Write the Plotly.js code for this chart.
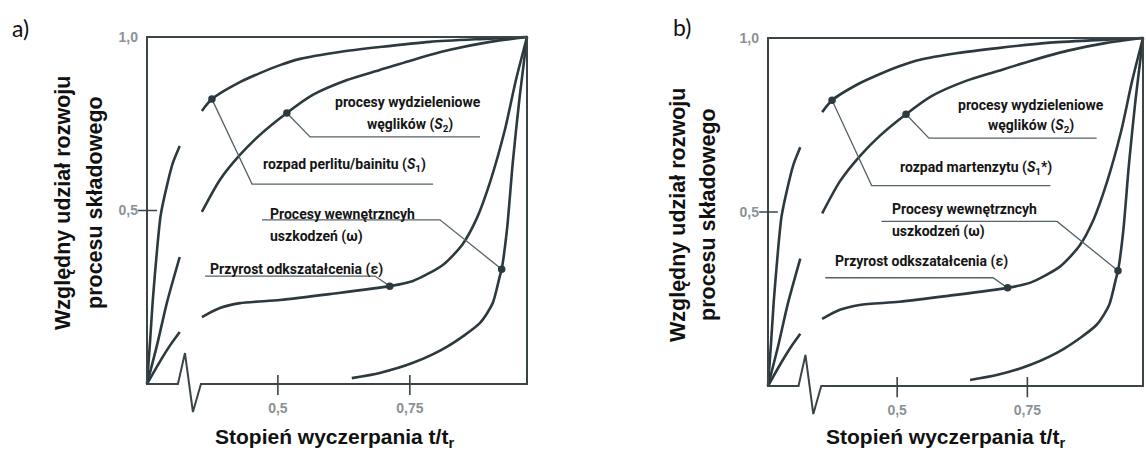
<!DOCTYPE html>
<html><head><meta charset="utf-8">
<script src="https://cdn.plot.ly/plotly-3.0.1.min.js"></script>
<style>html,body{margin:0;padding:0;background:#fff;} #chart{width:1146px;height:451px;}</style>
</head><body><div id="chart"></div>
<script>
// ---- data (relative time t/tr, relative share) ----
const s1EarlyX = [0.252,0.258,0.263,0.271,0.278,0.290,0.301,0.314];
const s1EarlyY = [0,0.127,0.242,0.386,0.487,0.573,0.637,0.686];
const s1X = [0.356,0.375,0.428,0.466,0.504,0.542,0.617,0.693,0.788,0.883,0.972];
const s1Y = [0.787,0.821,0.870,0.896,0.919,0.937,0.957,0.971,0.986,0.994,1.0];

const s2EarlyX = [0.252,0.271,0.290,0.314];
const s2EarlyY = [0,0.112,0.236,0.366];
const s2X = [0.356,0.390,0.428,0.466,0.517,0.566,0.631,0.693,0.756,0.826,0.902,0.972];
const s2Y = [0.496,0.588,0.660,0.718,0.781,0.833,0.876,0.905,0.934,0.963,0.986,1.0];

const epsEarlyX = [0.252,0.277,0.296,0.314];
const epsEarlyY = [0,0.066,0.112,0.150];
const epsX = [0.356,0.390,0.428,0.504,0.598,0.712,0.756,0.8125,0.850,0.877,0.902,0.930,0.951,0.972];
const epsY = [0.193,0.219,0.233,0.242,0.259,0.282,0.297,0.343,0.403,0.478,0.582,0.732,0.876,1.0];

const omegaX = [0.640,0.693,0.756,0.820,0.883,0.907,0.920,0.924,0.934,0.945,0.958,0.972];
const omegaY = [0.017,0.032,0.061,0.107,0.176,0.233,0.308,0.331,0.444,0.637,0.827,1.0];

const dotX = [0.375,0.517,0.712,0.924];
const dotY = [0.821,0.781,0.282,0.331];

const leadS1X = [0.375,0.451,0.794],  leadS1Y = [0.821,0.576,0.576];
const leadS2X = [0.517,0.561,0.883],  leadS2Y = [0.781,0.712,0.712];
const leadOmX = [0.470,0.807,0.924],  leadOmY = [0.473,0.473,0.331];
const leadEpX = [0.362,0.684,0.712],  leadEpY = [0.311,0.311,0.282];

const xTickVals = [0.5,0.75], xTickText = ['0,5','0,75'];
const yTickVals = [0.5,1.0],  yTickText = ['0,5','1,0'];
const frameX = [0.252,0.972];           // frame extent in t/tr
const breakX = [0.3106,0.3239,0.3390,0.3542];
const breakY = [0,0.0893,-0.0807,0];

const labelsA = {s2a:'procesy wydzieleniowe', s2b:'węglików (<i>S</i><sub>2</sub>)',
  s1:'rozpad perlitu/bainitu (<i>S</i><sub>1</sub>)', om1:'Procesy wewnętrzncyh', om2:'uszkodzeń (ω)',
  eps:'Przyrost odkszatałcenia (ε)'};
const labelsB = Object.assign({}, labelsA, {s1:'rozpad martenzytu (<i>S</i><sub>1</sub>*)'});

// ---- layout helpers ----
const W = 1146, H = 451;
const XR = [0.225, 0.977], YR = [-0.1, 1.025];
function dom(L,R,T,B){
  const sx = (R-L)/(frameX[1]-frameX[0]);
  const sy = (B-T);
  const pL = L-(frameX[0]-XR[0])*sx, pR = R+(XR[1]-frameX[1])*sx;
  const pT = T-(YR[1]-1)*sy, pB = B+(0-YR[0])*sy;
  return {x:[pL/W,pR/W], y:[1-pB/H,1-pT/H], xpos:1-B/H, ypos:L/W};
}
const dA = dom(147,527,37,384), dB = dom(768,1143,38,386);

const CURVE = '#2c393e', FRAME = '#3b4447', LEAD = '#55626a';
function traces(xa, ya){
  const t = [];
  const cur = (x,y)=>t.push({x,y,xaxis:xa,yaxis:ya,type:'scatter',mode:'lines',
     line:{color:CURVE,width:2.6,shape:'spline',smoothing:0.7},hoverinfo:'skip'});
  cur(s1EarlyX,s1EarlyY); cur(s1X,s1Y); cur(s2EarlyX,s2EarlyY); cur(s2X,s2Y);
  cur(epsEarlyX,epsEarlyY); cur(epsX,epsY); cur(omegaX,omegaY);
  const ld = (x,y)=>t.push({x,y,xaxis:xa,yaxis:ya,type:'scatter',mode:'lines',
     line:{color:LEAD,width:1.3},hoverinfo:'skip'});
  ld(leadS1X,leadS1Y); ld(leadS2X,leadS2Y); ld(leadOmX,leadOmY); ld(leadEpX,leadEpY);
  t.push({x:dotX,y:dotY,xaxis:xa,yaxis:ya,type:'scatter',mode:'markers',
     marker:{color:CURVE,size:7.5},hoverinfo:'skip'});
  return t;
}
function frameShapes(xr, yr){
  let p = `M ${frameX[0]},1 L ${frameX[0]},0`;
  for(let i=0;i<breakX.length;i++) p += ` L ${breakX[i]},${breakY[i]}`;
  p += ` L ${frameX[1]},0 L ${frameX[1]},1 Z`;
  const s = [{type:'path',path:p,xref:xr,yref:yr,line:{color:FRAME,width:2}}];
  xTickVals.forEach(v=>s.push({type:'line',xref:xr,yref:yr,x0:v,x1:v,y0:-0.032,y1:0.026,line:{color:FRAME,width:1.6}}));
  s.push({type:'line',xref:xr,yref:yr,x0:0.235,x1:0.271,y0:0.5,y1:0.5,line:{color:FRAME,width:1.6}});
  return s;
}
const ANN = {family:'Roboto, sans-serif', size:14, color:'#151515', weight:700};
function labels(xr, yr, L, pos){
  const a = (text,x,y,xanchor)=>({text,x,y,xref:xr,yref:yr,showarrow:false,xanchor:xanchor||'center',yanchor:'middle',font:ANN});
  return [a(L.s2a,pos.s2a[0],pos.s2a[1]), a(L.s2b,pos.s2b[0],pos.s2b[1]), a(L.s1,pos.s1[0],pos.s1[1]),
          a(L.om1,pos.om1[0],pos.om1[1],'left'), a(L.om2,pos.om2[0],pos.om2[1],'left'), a(L.eps,pos.eps[0],pos.eps[1],'left')];
}
const posA = {s2a:[0.746,0.813], s2b:[0.750,0.746], s1:[0.627,0.631], om1:[0.481,0.490], om2:[0.481,0.424], eps:[0.367,0.329]};
const posB = {s2a:[0.757,0.807], s2b:[0.757,0.747], s1:[0.651,0.626], om1:[0.486,0.509], om2:[0.486,0.443], eps:[0.377,0.359]};

const XTITLE = {family:'Liberation Sans, Arial, sans-serif', size:21, color:'#111', weight:700};
const YTITLE = {family:'Liberation Sans, Arial, sans-serif', size:21.5, color:'#111', weight:700};
const pa = (text,px,py,angle,font,xanchor)=>({text,x:px/W,y:1-py/H,xref:'paper',yref:'paper',showarrow:false,
   textangle:angle||0,xanchor:xanchor||'center',yanchor:'middle',font});
const titleAnn = [
  pa('Stopień wyczerpania t/t<sub>r</sub>',334,438,0,XTITLE),
  pa('Stopień wyczerpania t/t<sub>r</sub>',945,438,0,XTITLE),
  pa('Względny udział rozwoju',63,203,-90,YTITLE),
  pa('procesu składowego',95,203,-90,YTITLE),
  pa('Względny udział rozwoju',678,215,-90,YTITLE),
  pa('procesu składowego',708,215,-90,YTITLE),
  pa('a)',20,28,0,{family:'Lato, sans-serif',size:23,color:'#111'}),
  pa('b)',682,27,0,{family:'Lato, sans-serif',size:23,color:'#111'})
];

const TICKF = {family:'Liberation Sans, Arial, sans-serif', size:14, color:'#8a9296', weight:700};
function xax(d){ return {domain:d.x, range:XR, anchor:'free', position:d.xpos, showline:false, zeroline:false, showgrid:false,
  ticks:'', tickmode:'array', tickvals:xTickVals, ticktext:xTickText, tickfont:TICKF, ticklabelstandoff:14, fixedrange:true}; }
function yax(d){ return {domain:d.y, range:YR, anchor:'free', position:d.ypos, showline:false, zeroline:false, showgrid:false,
  ticks:'', tickmode:'array', tickvals:yTickVals, ticktext:yTickText, tickfont:TICKF, ticklabelstandoff:9, fixedrange:true}; }

const layout = {
  width:W, height:H, margin:{l:0,r:0,t:0,b:0}, showlegend:false,
  paper_bgcolor:'#ffffff', plot_bgcolor:'rgba(0,0,0,0)',
  xaxis:xax(dA), yaxis:yax(dA), xaxis2:xax(dB), yaxis2:yax(dB),
  shapes: frameShapes('x','y').concat(frameShapes('x2','y2')),
  annotations: labels('x','y',labelsA,posA).concat(labels('x2','y2',labelsB,posB), titleAnn)
};
Plotly.newPlot('chart', traces('x','y').concat(traces('x2','y2')), layout, {staticPlot:true, displayModeBar:false});
</script></body></html>
